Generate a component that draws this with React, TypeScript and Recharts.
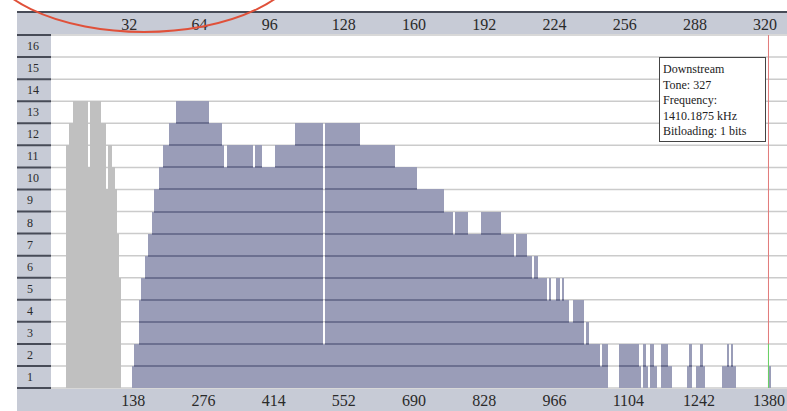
import { BarChart, Bar, XAxis, YAxis, CartesianGrid, Tooltip, ReferenceLine } from 'recharts';

if (typeof document !== 'undefined') document.body.style.margin = '0';

// tone grid
const N_TONES = 340;
const KHZ_PER_TONE = 4.3125;
const SELECTED_TONE = 327;

// [firstTone, lastTone, bits]
const UPSTREAM_RUNS: [number, number, number][] = [
  [7, 7, 11], [8, 9, 12], [10, 16, 13], [17, 17, 10], [18, 22, 13], [23, 24, 12],
  [25, 25, 9], [26, 27, 11], [28, 28, 10], [29, 29, 9], [30, 30, 7], [31, 31, 5]
];

const DOWNSTREAM_RUNS: [number, number, number][] = [
  [37, 37, 1], [38, 39, 2], [40, 40, 4], [41, 42, 5], [43, 43, 6], [44, 45, 7],
  [46, 46, 8], [47, 48, 9], [49, 50, 10], [51, 53, 11], [54, 56, 12], [57, 71, 13],
  [72, 77, 12], [78, 78, 11], [79, 79, 10], [80, 91, 11], [92, 92, 10], [93, 95, 11],
  [96, 101, 10], [102, 110, 11], [111, 123, 12], [124, 124, 2], [125, 140, 12],
  [141, 156, 11], [157, 166, 10], [167, 178, 9], [179, 182, 8], [183, 183, 7],
  [184, 189, 8], [190, 195, 7], [196, 204, 8], [205, 210, 7], [211, 211, 6],
  [212, 216, 7], [217, 218, 6], [219, 219, 5], [220, 221, 6], [222, 225, 5],
  [226, 226, 4], [227, 227, 5], [228, 229, 4], [230, 231, 5], [232, 232, 4],
  [233, 233, 5], [234, 235, 4], [236, 237, 3], [238, 242, 4], [243, 243, 2],
  [244, 244, 3], [245, 249, 2], [250, 250, 1], [251, 253, 2], [259, 267, 2],
  [268, 268, 1], [270, 270, 2], [271, 271, 1], [273, 274, 2], [275, 275, 1],
  [278, 280, 2], [281, 282, 1], [290, 290, 1], [291, 291, 2], [294, 295, 1],
  [296, 296, 2], [297, 297, 1], [306, 307, 1], [308, 308, 2], [309, 309, 1],
  [310, 310, 2], [311, 311, 1], [327, 327, 1]
];

const TONE_TICKS = [32, 64, 96, 128, 160, 192, 224, 256, 288, 320];
const ROW_TICKS = [0, 1, 2, 3, 4, 5, 6, 7, 8, 9, 10, 11, 12, 13, 14, 15, 16];

const expand = (runs: [number, number, number][]) => {
  const arr: number[] = new Array(N_TONES).fill(0);
  runs.forEach(([a, b, v]) => {
    for (let t = a; t <= b; t++) arr[t] = v;
  });
  return arr;
};

const upBits = expand(UPSTREAM_RUNS);
const downBits = expand(DOWNSTREAM_RUNS);
const data = upBits.map((up, tone) => ({ tone, up, down: downBits[tone] }));

// layout
const WIDTH = 797;
const HEIGHT = 411;
const LEFT = 17;
const COL_W = 34;
const TOP = 13;
const TOP_AXIS_H = 22;
const BOTTOM_AXIS_H = 23;
const PLOT_W = WIDTH - LEFT - COL_W;
const PLOT_H = HEIGHT - TOP - TOP_AXIS_H - BOTTOM_AXIS_H;
const TONE_W = PLOT_W / N_TONES;
const ROW_H = PLOT_H / 16;

const COLORS = {
  band: '#c7cbd6',
  bandLine: '#474b57',
  down: '#9a9db8',
  downLine: '#6c7090',
  up: '#c0c0c0',
  grid: '#cbcbcb',
  text: '#2a2a2a',
  cursor: '#e27a7a',
  cursorLow: '#66d466'
};

const FONT = "'Liberation Serif', 'Times New Roman', serif";

const DownShape = (props: any) => {
  const { x, y, height, payload } = props;
  const bits = payload?.down || 0;
  if (!bits || !(height > 0)) return <g />;
  const unit = height / bits;
  const lines = [];
  for (let k = 1; k < bits; k++) {
    lines.push(
      <line key={k} x1={x} x2={x + TONE_W} y1={y + k * unit} y2={y + k * unit}
        stroke={COLORS.downLine} strokeWidth={2} shapeRendering="crispEdges" />
    );
  }
  return (
    <g>
      <rect x={x} y={y} width={TONE_W} height={height} fill={COLORS.down} shapeRendering="crispEdges" />
      {lines}
    </g>
  );
};

const UpShape = (props: any) => {
  const { x, y, height } = props;
  if (!(height > 0)) return <g />;
  return <rect x={x} y={y} width={TONE_W} height={height} fill={COLORS.up} shapeRendering="crispEdges" />;
};

const TopTick = ({ x, payload }: any) => (
  <text x={x} y={TOP + TOP_AXIS_H - 5} fontSize={16} fontFamily={FONT} fill={COLORS.text} textAnchor="start">
    {payload.value}
  </text>
);

const BottomTick = ({ x, payload }: any) => (
  <text x={x} y={HEIGHT - 5} fontSize={16} fontFamily={FONT} fill={COLORS.text} textAnchor="start">
    {payload.value * KHZ_PER_TONE}
  </text>
);

const RowTick = ({ x, y, payload }: any) => (
  <g>
    <line x1={x - COL_W} x2={x} y1={y} y2={y} stroke={COLORS.bandLine} strokeWidth={2} />
    {payload.value > 0 && (
      <text x={x - 24} y={y + ROW_H / 2 + 4} fontSize={12} fontFamily={FONT} fill={COLORS.text}>
        {payload.value}
      </text>
    )}
  </g>
);

const ToneBox = ({ payload }: any) => {
  if (!payload || !payload.length) return null;
  const p = payload[0].payload;
  return (
    <div
      style={{
        width: 107,
        height: 85,
        boxSizing: 'border-box',
        border: '1px solid #444',
        background: '#fff',
        padding: '4px 3px',
        fontFamily: FONT,
        fontSize: 12,
        lineHeight: '15.6px',
        color: '#222',
        whiteSpace: 'nowrap'
      }}
    >
      <div>Downstream</div>
      <div>Tone: {p.tone}</div>
      <div>Frequency:</div>
      <div>{p.tone * KHZ_PER_TONE} kHz</div>
      <div>Bitloading: {p.down} bits</div>
    </div>
  );
};

export default function App() {
  return (
    <div style={{ position: 'relative', width: 787, height: 411, overflow: 'hidden', background: '#fff' }}>
      <div style={{ position: 'absolute', left: LEFT, top: 11, width: 787 - LEFT, height: 23, background: COLORS.band, borderTop: `2px solid ${COLORS.bandLine}`, boxSizing: 'border-box' }} />
      <div style={{ position: 'absolute', left: LEFT, top: 34, width: COL_W, height: 356, background: COLORS.band }} />
      <div style={{ position: 'absolute', left: LEFT, top: 389, width: 787 - LEFT, height: 22, background: COLORS.band }} />
      <div style={{ position: 'absolute', left: 0, top: 0 }}>
        <BarChart
          width={WIDTH}
          height={HEIGHT}
          data={data}
          margin={{ top: TOP, right: 0, left: LEFT, bottom: 0 }}
          barCategoryGap={0}
          barGap={0}
        >
          <CartesianGrid horizontal vertical={false} stroke={COLORS.grid} strokeWidth={1.5} />
          <XAxis dataKey="tone" hide />
          <XAxis
            xAxisId="top"
            orientation="top"
            type="number"
            dataKey="tone"
            domain={[0, N_TONES]}
            allowDataOverflow
            ticks={TONE_TICKS}
            interval={0}
            height={TOP_AXIS_H}
            tickSize={0}
            tickMargin={0}
            axisLine={false}
            tickLine={false}
            tick={<TopTick />}
          />
          <XAxis
            xAxisId="bottom"
            orientation="bottom"
            type="number"
            dataKey="tone"
            domain={[0, N_TONES]}
            allowDataOverflow
            ticks={TONE_TICKS}
            interval={0}
            height={BOTTOM_AXIS_H}
            tickSize={0}
            tickMargin={0}
            axisLine={{ stroke: COLORS.bandLine, strokeWidth: 2 }}
            tickLine={false}
            tick={<BottomTick />}
          />
          <YAxis
            type="number"
            domain={[0, 16]}
            ticks={ROW_TICKS}
            interval={0}
            width={COL_W}
            tickSize={0}
            tickMargin={0}
            axisLine={false}
            tickLine={false}
            tick={<RowTick />}
          />
          <Bar dataKey="up" stackId="bits" shape={<UpShape />} isAnimationActive={false} />
          <Bar dataKey="down" stackId="bits" shape={<DownShape />} isAnimationActive={false} />
          <ReferenceLine xAxisId="top" x={SELECTED_TONE} stroke={COLORS.cursor} strokeWidth={1} />
          <ReferenceLine
            xAxisId="top"
            segment={[{ x: SELECTED_TONE, y: 0 }, { x: SELECTED_TONE, y: 2 }]}
            stroke={COLORS.cursorLow}
            strokeWidth={1}
          />
          <Tooltip
            active
            defaultIndex={SELECTED_TONE}
            position={{ x: 659, y: 57 }}
            cursor={false}
            isAnimationActive={false}
            content={<ToneBox />}
            wrapperStyle={{ outline: 'none' }}
          />
        </BarChart>
      </div>
      <svg width={787} height={411} style={{ position: 'absolute', left: 0, top: 0, pointerEvents: 'none' }}>
        <ellipse cx={144} cy={-46} rx={160} ry={78} fill="none" stroke="#e0513a" strokeWidth={2} />
      </svg>
    </div>
  );
}
